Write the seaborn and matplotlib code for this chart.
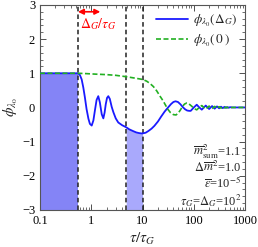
import numpy as np
import pandas as pd
import matplotlib
matplotlib.use("Agg")
import matplotlib.pyplot as plt
import seaborn as sns

# ========== data ==========
blue_tau = [0.1, 0.55, 0.6, 0.65, 0.7, 0.75, 0.81, 0.88, 0.94, 1.02, 1.1, 1.18, 1.27, 1.37,
            1.47, 1.6, 1.72, 1.82, 1.92, 2.03, 2.15, 2.3, 2.5, 2.7, 3.0, 3.36, 4.0, 4.8,
            5.5, 6.5, 7.5, 8.5, 9.6, 10.0, 11.5, 13, 15, 17, 20, 23, 27, 31.5, 36, 40, 44,
            49, 55, 61, 67, 74, 81, 87, 100, 114, 128, 143, 157, 171, 185, 199, 213, 227,
            255, 283, 311, 339, 367, 395, 423, 451, 479, 507, 560, 1000]
blue_phi = [1.0, 1.0, 0.95, 0.82, 0.58, 0.3, -0.05, -0.33, -0.48, -0.53, -0.38, -0.08, 0.22, 0.33,
            0.15, -0.2, -0.32, -0.15, 0.1, 0.28, 0.33, 0.25, 0.02, -0.14, -0.32, -0.44, -0.52, -0.58,
            -0.64, -0.69, -0.73, -0.75, -0.76, -0.76, -0.74, -0.69, -0.62, -0.54, -0.41, -0.27, -0.12, 0.0, 0.1, 0.16, 0.18,
            0.16, 0.09, 0.01, -0.05, -0.09, -0.1, -0.1, 0.0, 0.08, 0.0, -0.065, 0.0, 0.055, 0.0, -0.045, 0.0, 0.04,
            -0.035, 0.03, -0.026, 0.022, -0.019, 0.016, -0.013, 0.011, -0.009, 0.007, 0.0, 0.0]

green_tau = [0.1, 0.55, 0.8, 1.2, 2, 3, 4.8, 7, 10, 12, 14, 16.3, 19, 21.9, 25, 28, 31, 35, 40,
             45, 50, 55, 60, 66, 73, 78, 92, 100, 114, 128, 143, 157, 171, 185, 199, 227, 255,
             283, 311, 339, 367, 395, 423, 451, 479, 507, 560, 1000]
green_phi = [1.0, 1.0, 0.99, 0.975, 0.96, 0.94, 0.9, 0.86, 0.82, 0.77, 0.7, 0.61, 0.48, 0.33, 0.2, 0.07, -0.05, -0.15, -0.21,
             -0.22, -0.16, -0.07, 0.03, 0.1, 0.13, 0.12, 0.03, -0.03, -0.07, 0.0, 0.055, 0.0, -0.045, 0.0, 0.04, -0.035, 0.03,
             -0.026, 0.022, -0.019, 0.016, -0.013, 0.011, -0.009, 0.007, -0.006, 0.0, 0.0]

vlines = [0.55, 4.8, 10.0]
xticks = [0.1, 1, 10, 100, 1000]
xticklabels = ["0.1", "1", "10", "100", "1000"]
yticks = [-3, -2, -1, 0, 1, 2, 3]
params_text = [r"$\overline{m}^2_{\rm sum}$=1.1", r"$\Delta\overline{m}^2$=1.0",
               r"$\overline{\epsilon}$=10$^{-5}$", r"$\tau_G$=$\Delta_G$=10$^2$"]

# ========== style ==========
sns.set_style("ticks")
plt.rcParams["font.family"] = ["Liberation Serif", "DejaVu Serif"]
plt.rcParams["mathtext.fontset"] = "stix"
plt.rcParams["axes.unicode_minus"] = True

blue = pd.DataFrame({"tau": blue_tau, "phi": blue_phi})
green = pd.DataFrame({"tau": green_tau, "phi": green_phi})

fig = plt.figure(figsize=(2.58, 2.47), dpi=100)
ax = fig.add_axes([0.155, 0.15, 0.795, 0.83])

# shaded regions
left = blue[blue["tau"] <= vlines[0]]
ax.fill_between(left["tau"], -3, left["phi"], color="#8484f6", lw=0, zorder=1)
mid = blue[(blue["tau"] >= vlines[1]) & (blue["tau"] <= vlines[2])]
ax.fill_between(mid["tau"], -3, mid["phi"], color="#a9a9fc", lw=0, zorder=1)

sns.lineplot(data=blue, x="tau", y="phi", ax=ax, color="#1a1aff", lw=1.3, estimator=None,
             label=r"$\phi_{\lambda_0}(\Delta_G)$", zorder=3)
sns.lineplot(data=green, x="tau", y="phi", ax=ax, color="#22b022", lw=1.2, estimator=None,
             linestyle=(0, (3, 1.5)), label=r"$\phi_{\lambda_0}(\,0\,)$", zorder=4)

for v in vlines:
    ax.axvline(v, color="#222222", lw=1.1, ls=(0, (3, 2)), zorder=2)

# arrow annotation
ax.annotate("", xy=(1.5, 2.8), xytext=(0.55, 2.8),
            arrowprops=dict(arrowstyle="<|-|>", color="red", lw=1.2, mutation_scale=8,
                            shrinkA=0, shrinkB=0))
ax.text(0.6, 2.45, r"$\Delta_G/\tau_G$", color="red", fontsize=10, ha="left", va="center")

ax.set_xscale("log")
ax.set_xlim(0.1, 1000)
ax.set_ylim(-3, 3)
ax.set_xticks(xticks)
ax.set_xticklabels(xticklabels)
ax.set_yticks(yticks)
ax.yaxis.set_minor_locator(matplotlib.ticker.MultipleLocator(0.2))
ax.tick_params(which="both", direction="in", top=True, right=True, labelsize=9, colors="#333333",
               labelcolor="black")
ax.tick_params(which="major", length=4, width=0.6)
ax.tick_params(which="minor", length=2, width=0.5)
for s in ax.spines.values():
    s.set_color("#555555")
    s.set_linewidth(0.8)

ax.set_xlabel(r"$\tau/\tau_G$", fontsize=11, labelpad=3)
ax.set_ylabel(r"$\phi_{\lambda_0}$", fontsize=11, labelpad=1)

ax.legend(loc="upper right", frameon=False, fontsize=9.5, handlelength=2.4, borderaxespad=0.2,
          labelspacing=0.3, handletextpad=0.4)

ys = [-1.3, -1.75, -2.2, -2.72]
for t, yv in zip(params_text, ys):
    ax.text(0.98, (yv + 3) / 6, t, transform=ax.transAxes, ha="right", va="center", fontsize=9)

fig.savefig("out.png", dpi=100)
